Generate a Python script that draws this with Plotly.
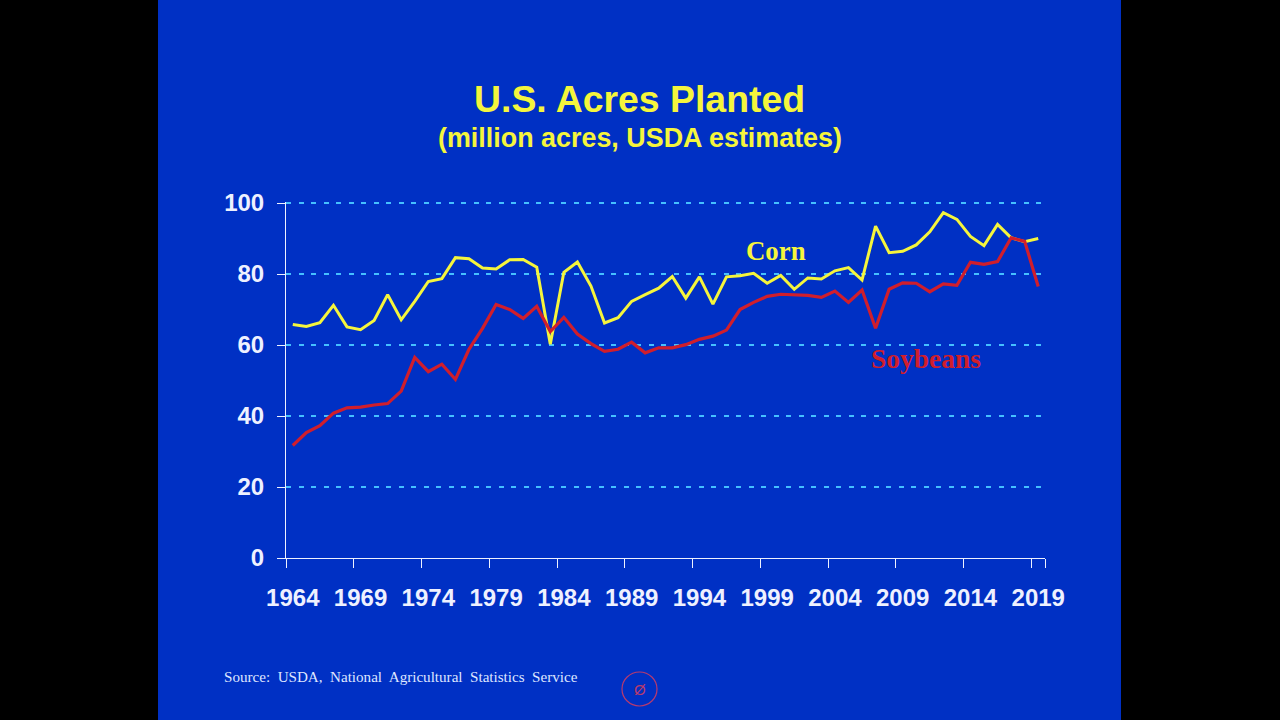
import plotly.graph_objects as go

years = list(range(1964, 2020))
corn = [65.8, 65.2, 66.3, 71.2, 65.1, 64.3, 66.9, 74.2, 67.1, 72.3, 77.9, 78.7, 84.6, 84.3,
        81.7, 81.4, 84.0, 84.1, 81.9, 60.2, 80.5, 83.4, 76.6, 66.2, 67.7, 72.3, 74.2, 76.0,
        79.3, 73.2, 79.2, 71.5, 79.2, 79.5, 80.2, 77.4, 79.6, 75.7, 78.9, 78.6, 80.9, 81.8,
        78.3, 93.5, 86.0, 86.4, 88.2, 91.9, 97.3, 95.4, 90.6, 88.0, 94.0, 90.2, 89.1, 90.0]
soybeans = [31.7, 35.3, 37.3, 40.8, 42.3, 42.5, 43.1, 43.5, 47.0, 56.5, 52.5, 54.6, 50.3, 58.8,
            64.7, 71.4, 70.0, 67.5, 70.9, 63.8, 67.8, 63.1, 60.4, 58.2, 58.8, 60.8, 57.8, 59.2,
            59.2, 60.1, 61.6, 62.5, 64.2, 70.0, 72.0, 73.7, 74.3, 74.1, 74.0, 73.4, 75.2, 72.0,
            75.5, 64.7, 75.7, 77.5, 77.4, 75.0, 77.2, 76.8, 83.3, 82.7, 83.5, 90.2, 89.2, 76.5]
y_ticks = [0, 20, 40, 60, 80, 100]

W, H = 1280, 720
SANS = "Liberation Sans"
SERIF = "Liberation Serif"
BLUE = "#0030c4"
YELLOW = "#f5f53c"
RED = "#d01e2c"
WHITE = "#eef1ff"


def note(text, x, y, family, size, color, xanchor="center"):
    return dict(text=text, xref="paper", yref="paper", x=x/W, y=1-y/H, xanchor=xanchor,
                yanchor="middle", showarrow=False, font=dict(family=family, size=size, color=color))


fig = go.Figure()
fig.add_trace(go.Scatter(x=years, y=corn, mode="lines", name="Corn",
                         line=dict(color=YELLOW, width=3), showlegend=False))
fig.add_trace(go.Scatter(x=years, y=soybeans, mode="lines", name="Soybeans",
                         line=dict(color=RED, width=3.2), showlegend=False))

fig.update_layout(
    width=W, height=H, autosize=False,
    margin=dict(l=0, r=0, t=0, b=0, autoexpand=False),
    paper_bgcolor="black", plot_bgcolor=BLUE,
    shapes=[
        dict(type="rect", xref="paper", yref="paper", x0=158/W, x1=1121/W, y0=0, y1=1,
             fillcolor=BLUE, line_width=0, layer="below"),
        dict(type="circle", xref="paper", yref="paper",
             x0=622/W, x1=657/W, y0=1-706/H, y1=1-672/H,
             line=dict(color="#b83a6e", width=1.2), fillcolor="rgba(0,0,0,0)"),
    ],
    xaxis=dict(domain=[286/W, 1045/W], type="linear", range=[1963.5, 2019.5],
               tickmode="array", tickvals=years[::5], ticktext=[str(v) for v in years[::5]],
               ticks="", showgrid=False, zeroline=False,
               showline=True, linecolor=WHITE, linewidth=1, ticklabelstandoff=18,
               tickfont=dict(family=SANS, size=24, color=WHITE, weight=700),
               minor=dict(tickmode="array", tickvals=[y - 0.5 for y in years[::5]] + [2019.5],
                          ticks="outside", ticklen=9, tickcolor=WHITE, tickwidth=1,
                          showgrid=False)),
    yaxis=dict(domain=[1-558/H, 1-201.6/H], range=[0, 100.4], tickvals=y_ticks,
               ticks="outside", ticklen=8, tickcolor=WHITE, tickwidth=1,
               showgrid=True, gridcolor="#45c0ff", gridwidth=2, griddash="5px,7.5px",
               zeroline=False, showline=True, linecolor=WHITE, linewidth=1,
               ticklabelstandoff=8,
               tickfont=dict(family=SANS, size=24, color=WHITE, weight=700)),
    annotations=[
        note("<b>U.S. Acres Planted</b>", 639, 99, SANS, 37.4, YELLOW),
        note("<b>(million acres, USDA estimates)</b>", 640, 138, SANS, 26.9, YELLOW),
        note("<b>Corn</b>", 776, 251, SERIF, 26.8, YELLOW),
        note("<b>Soybeans</b>", 926, 358, SERIF, 27.5, RED),
        note("Source:  USDA,  National  Agricultural  Statistics  Service", 222, 677, SERIF, 15.1,
             "#dfe6ff", xanchor="left"),
        note("Ø", 640, 689, SANS, 15, "#b83a6e"),
    ],
)

fig.write_html("out.html", config=dict(displayModeBar=False),
               post_script="document.body.style.margin='0';document.body.style.background='black';document.body.style.overflow='hidden';")
